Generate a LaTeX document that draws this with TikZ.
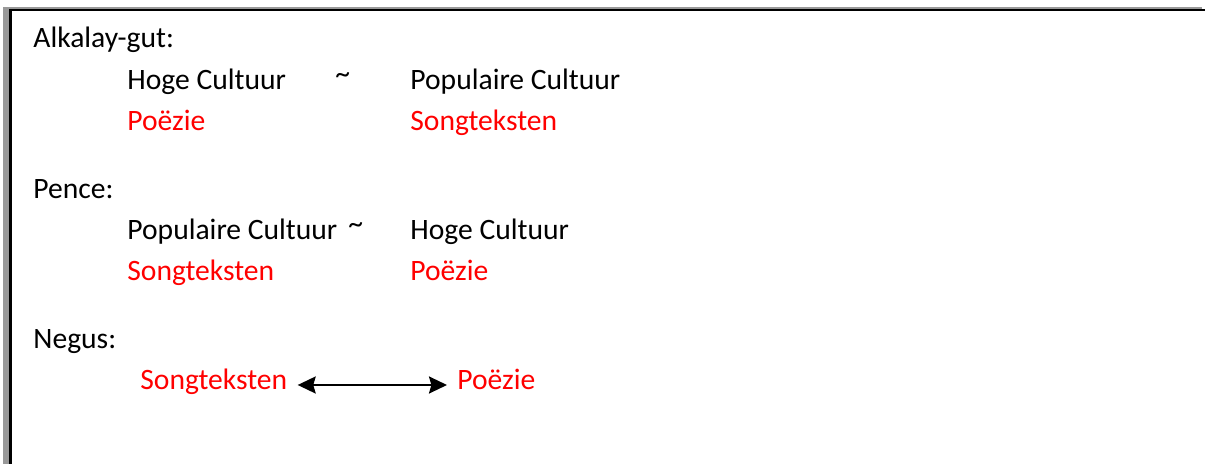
\documentclass[tikz,border=0pt]{standalone}
\usepackage{fontspec}
\setmainfont{Carlito}
\usetikzlibrary{arrows.meta}

\begin{document}
\begin{tikzpicture}[x=0.5pt,y=-0.5pt,
    txt/.style={anchor=base west,inner sep=0pt,font=\fontsize{14.8}{18}\selectfont},
    rood/.style={txt,text=red},
    golf/.style={txt,yshift=3pt},
    link/.style={line width=1.1pt,{Stealth[length=9pt,width=8.5pt,inset=1.2pt]}-{Stealth[length=9pt,width=8.5pt,inset=1.2pt]}}]

  \useasboundingbox (0,0) rectangle (1205,464);

  % frame of the text box
  \fill[gray!80] (3,7) rectangle (9,464);
  \fill[gray!80] (3,7) rectangle (1202,9);
  \fill[black] (9,9) rectangle (12,464);
  \fill[black] (9,9) rectangle (1205,11);

  % Alkalay-gut
  \draw (33,48) node[txt] (alk) {Alkalay-gut:};
  \draw (127,90) node[txt] (alkHoog) {Hoge Cultuur};
  \draw (335,90) node[golf] (alkTilde) {\textasciitilde};
  \draw (410,90) node[txt] (alkPop) {Populaire Cultuur};
  \draw (127,131) node[rood] (alkPoez) {Poëzie};
  \draw (410,131) node[rood] (alkSong) {Songteksten};

  % Pence
  \draw (33,199) node[txt] (pen) {Pence:};
  \draw (127,240) node[txt] (penPop) {Populaire Cultuur};
  \draw (348,240) node[golf] (penTilde) {\textasciitilde};
  \draw (410,240) node[txt] (penHoog) {Hoge Cultuur};
  \draw (127,281) node[rood] (penSong) {Songteksten};
  \draw (410,281) node[rood] (penPoez) {Poëzie};

  % Negus
  \draw (33,349) node[txt] (neg) {Negus:};
  \draw (140,390) node[rood] (negSong) {Songteksten};
  \draw (457,390) node[rood] (negPoez) {Poëzie};

  \draw[link,shorten <=5pt,shorten >=5pt] ([yshift=2.5pt]negSong.base east) -- ([yshift=2.5pt]negPoez.base west);

\end{tikzpicture}
\end{document}
